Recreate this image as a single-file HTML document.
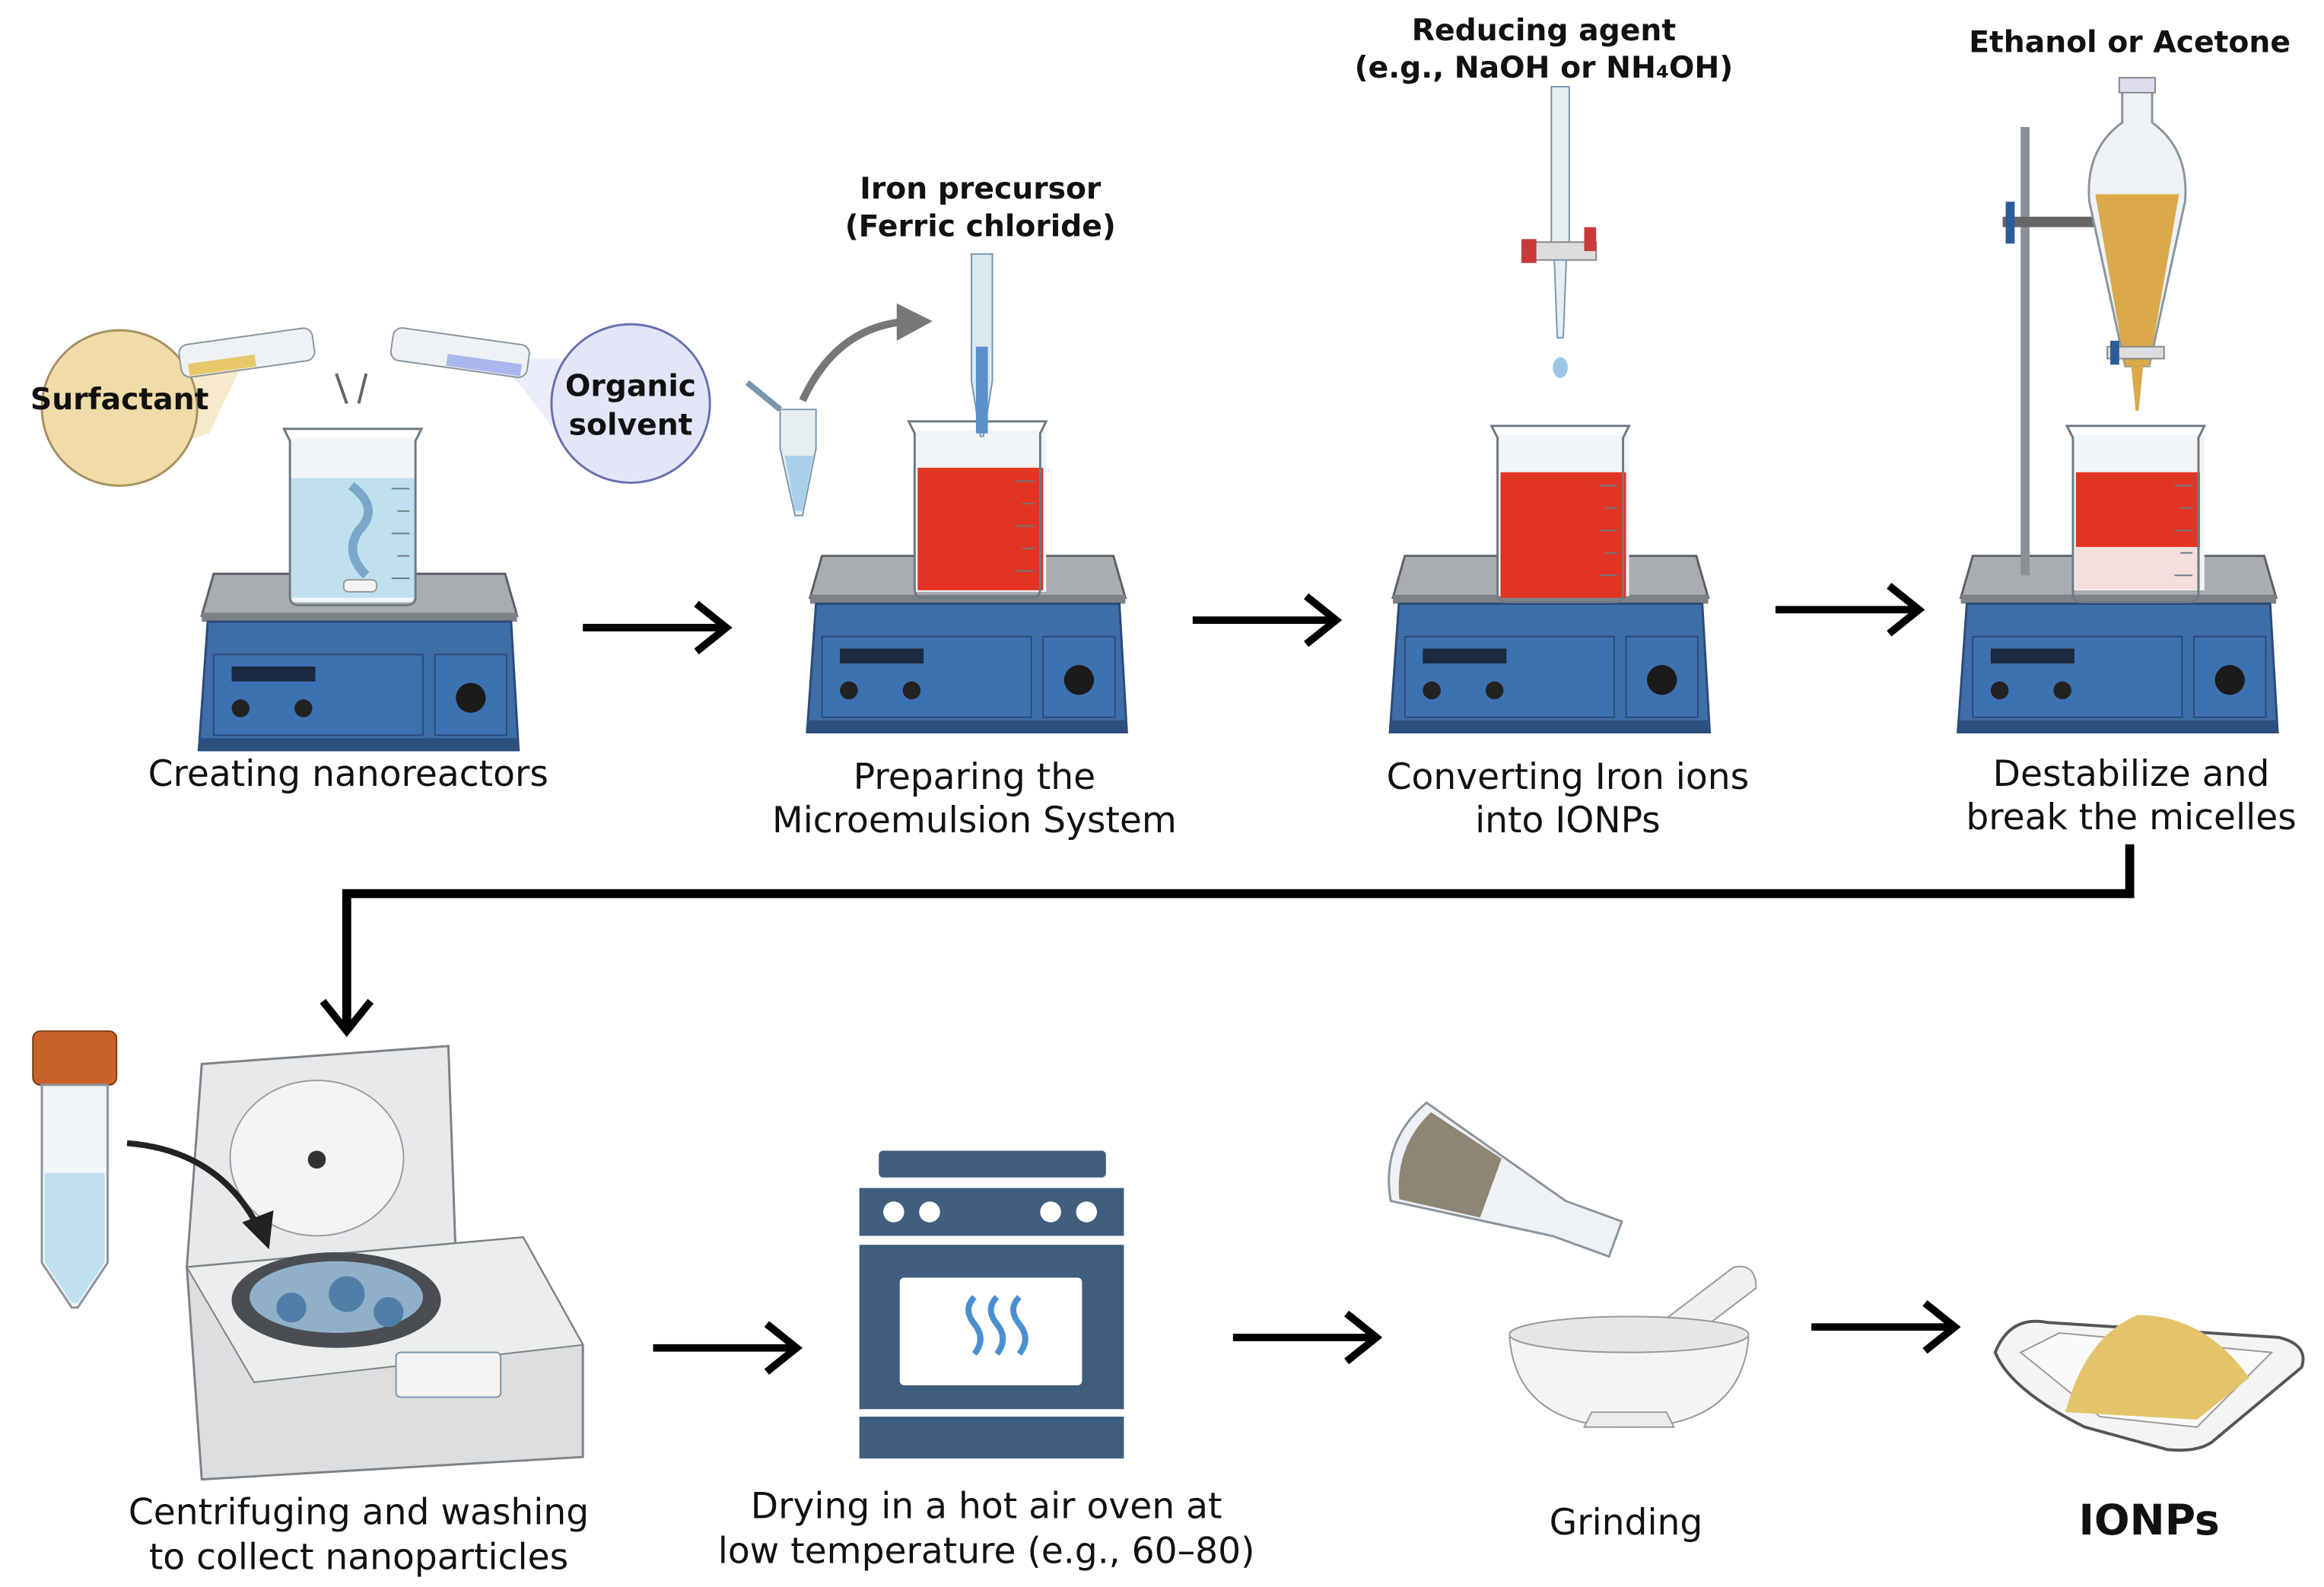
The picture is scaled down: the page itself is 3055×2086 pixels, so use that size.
<!DOCTYPE html>
<html><head><meta charset="utf-8"><style>
html,body{margin:0;padding:0;background:#fff;}
svg{display:block;}
text{font-family:"DejaVu Sans","Liberation Sans",sans-serif;fill:#111;}
.b{font-weight:bold;}
</style></head><body>
<svg width="3055" height="2086" viewBox="0 0 1555 1062" preserveAspectRatio="none" xmlns="http://www.w3.org/2000/svg">
<defs>
<g id="stir">
  <path d="M10,0 L205,0 L213,28 L2,28 Z" fill="#a9adb0" stroke="#5b6066" stroke-width="1.5"/>
  <rect x="2" y="26" width="211" height="6" fill="#7d8286"/>
  <path d="M6,32 L209,32 L214,118 L0,118 Z" fill="#3e6ea8" stroke="#2b4a78" stroke-width="1.5"/>
  <rect x="0" y="110" width="214" height="8" fill="#2d4f80"/>
  <rect x="10" y="54" width="140" height="54" fill="#3d72b2" stroke="#2b4a78"/>
  <rect x="158" y="54" width="48" height="54" fill="#3d72b2" stroke="#2b4a78"/>
  <rect x="22" y="62" width="56" height="10" fill="#1b2a40"/>
  <circle cx="28" cy="90" r="6" fill="#222"/>
  <circle cx="70" cy="90" r="6" fill="#222"/>
  <circle cx="182" cy="83" r="10" fill="#1b1b1b"/>
</g>
<g id="beaker">
  <path d="M0,0 L92,0 L88,8 L88,112 Q88,118 82,118 L10,118 Q4,118 4,112 L4,8 Z" fill="none" stroke="#6d7a83" stroke-width="1.5"/>
  <g stroke="#6d7a83" stroke-width="1"><line x1="72" y1="40" x2="84" y2="40"/><line x1="76" y1="55" x2="84" y2="55"/><line x1="72" y1="70" x2="84" y2="70"/><line x1="76" y1="85" x2="84" y2="85"/><line x1="72" y1="100" x2="84" y2="100"/></g>
</g>
<g id="arr"><line x1="0" y1="0" x2="94" y2="0" stroke="#000" stroke-width="5"/><path d="M76,-16 L96,0 L76,16" fill="none" stroke="#000" stroke-width="5"/></g>
</defs>

<use href="#stir" x="133" y="384"/>
<use href="#stir" x="540" y="372"/>
<use href="#stir" x="930" y="372"/>
<use href="#stir" x="1310" y="372"/>

<!-- Beaker 1 -->
<rect x="194" y="293" width="84" height="110" fill="#f1f5f7"/>
<path d="M194,320 L278,320 L278,400 L194,400 Z" fill="#bfe0ee"/>
<path d="M235,325 Q255,340 240,355 Q230,370 245,385" stroke="#7aa8c8" stroke-width="6" fill="none"/>
<rect x="230" y="388" width="22" height="8" rx="3" fill="#f4f4f4" stroke="#999"/>
<use href="#beaker" x="190" y="287"/>
<!-- Beaker 2 -->
<rect x="612" y="288" width="88" height="108" fill="#f1f5f7"/>
<rect x="614" y="313" width="84" height="82" fill="#e23422"/>
<use href="#beaker" x="608" y="282"/>
<!-- Beaker 3 -->
<rect x="1002" y="291" width="88" height="108" fill="#f1f5f7"/>
<rect x="1004" y="316" width="84" height="84" fill="#e23422"/>
<use href="#beaker" x="998" y="285"/>
<!-- Beaker 4 -->
<rect x="1387" y="291" width="88" height="104" fill="#f1f5f7"/>
<rect x="1389" y="316" width="83" height="78" fill="#e23422"/>
<rect x="1389" y="366" width="83" height="28" fill="#f4dede"/>
<use href="#beaker" x="1383" y="285"/>

<!-- Surfactant & solvent -->
<path d="M100,245 L160,248 L140,290 L110,300 Z" fill="#f0dca8" opacity="0.6"/>
<path d="M400,240 L330,240 L350,260 L380,300 Z" fill="#e2e6f8" opacity="0.7"/>
<circle cx="80" cy="273" r="52" fill="#f0dca8" stroke="#a89060" stroke-width="1.5"/>
<circle cx="422" cy="270" r="53" fill="#e2e6f8" stroke="#6870b0" stroke-width="1.5"/>
<g transform="rotate(-8 165 235)"><rect x="120" y="225" width="90" height="22" rx="6" fill="#eef2f4" stroke="#8a959c"/><rect x="125" y="238" width="45" height="8" fill="#e8c86a"/></g>
<g transform="rotate(8 308 235)"><rect x="262" y="225" width="92" height="22" rx="6" fill="#eef2f4" stroke="#8a959c"/><rect x="300" y="238" width="50" height="8" fill="#aab6ee"/></g>
<path d="M225,250 L232,270 M245,250 L240,270" stroke="#666" stroke-width="2"/>
<text x="80" y="274" font-size="20" class="b" text-anchor="middle">Surfactant</text>
<text x="422" y="265" font-size="20" class="b" text-anchor="middle">Organic</text>
<text x="422" y="291" font-size="20" class="b" text-anchor="middle">solvent</text>

<!-- pipette & eppendorf -->
<path d="M650,170 L664,170 L664,255 L658,292 L656,292 L650,255 Z" fill="#dbe9f1" stroke="#7a96ad"/>
<rect x="653" y="232" width="8" height="58" fill="#5a90c8"/>
<path d="M537,268 Q560,218 608,215" stroke="#777" stroke-width="5" fill="none"/>
<path d="M600,203 L624,215 L600,228 Z" fill="#777"/>
<path d="M522,274 L546,274 L546,300 L537,345 L532,345 L522,300 Z" fill="#e6eef2" stroke="#7a96ad"/>
<path d="M525,305 L544,305 L537,342 L532,342 Z" fill="#a9d0ea"/>
<path d="M522,274 L500,256" stroke="#7a96ad" stroke-width="4"/>
<text x="656" y="133" font-size="20" class="b" text-anchor="middle">Iron precursor</text>
<text x="656" y="158" font-size="20" class="b" text-anchor="middle">(Ferric chloride)</text>

<!-- burette -->
<rect x="1038" y="58" width="12" height="110" fill="#e6eef2" stroke="#7a96ad"/>
<rect x="1020" y="162" width="48" height="12" fill="#ddd" stroke="#888"/>
<rect x="1018" y="160" width="10" height="16" fill="#c83a3a"/>
<rect x="1060" y="152" width="8" height="16" fill="#c83a3a"/>
<path d="M1040,174 L1048,174 L1046,226 L1042,226 Z" fill="#e6eef2" stroke="#7a96ad"/>
<ellipse cx="1044" cy="246" rx="5" ry="7" fill="#9dc7e8"/>
<text x="1033" y="27" font-size="20" class="b" text-anchor="middle">Reducing agent</text>
<text x="1033" y="52" font-size="20" class="b" text-anchor="middle">(e.g., NaOH or NH₄OH)</text>

<!-- separatory funnel -->
<rect x="1352" y="85" width="6" height="300" fill="#8a9096"/>
<rect x="1340" y="145" width="75" height="7" fill="#666"/>
<rect x="1342" y="135" width="6" height="28" fill="#2b5c9a"/>
<path d="M1420,60 L1440,60 L1440,82 Q1465,100 1462,135 L1438,245 L1422,245 L1398,135 Q1395,100 1420,82 Z" fill="#eef2f4" stroke="#8a959c" stroke-width="1.5"/>
<path d="M1402,130 L1458,130 L1438,245 L1422,245 Z" fill="#d9a94a"/>
<rect x="1418" y="52" width="24" height="10" fill="#dde" stroke="#888"/>
<rect x="1410" y="232" width="38" height="8" fill="#ddd" stroke="#888"/>
<rect x="1412" y="228" width="6" height="16" fill="#2b5c9a"/>
<path d="M1426,245 L1434,245 L1431,275 L1429,275 Z" fill="#d9a94a"/>
<text x="1425" y="35" font-size="20" class="b" text-anchor="middle">Ethanol or Acetone</text>

<g font-size="24">
<text x="233" y="526" text-anchor="middle">Creating nanoreactors</text>
<text x="652" y="528" text-anchor="middle">Preparing the</text>
<text x="652" y="557" text-anchor="middle">Microemulsion System</text>
<text x="1049" y="528" text-anchor="middle">Converting Iron ions</text>
<text x="1049" y="557" text-anchor="middle">into IONPs</text>
<text x="1426" y="526" text-anchor="middle">Destabilize and</text>
<text x="1426" y="555" text-anchor="middle">break the micelles</text>
</g>

<use href="#arr" x="390" y="420"/>
<use href="#arr" x="798" y="415"/>
<use href="#arr" x="1188" y="408"/>
<use href="#arr" x="437" y="902"/>
<use href="#arr" x="825" y="895"/>
<use href="#arr" x="1212" y="888"/>
<path d="M1425,565 L1425,598 L232,598 L232,688" fill="none" stroke="#000" stroke-width="6"/>
<path d="M216,670 L232,690 L248,670" fill="none" stroke="#000" stroke-width="5"/>

<!-- tube -->
<rect x="22" y="690" width="56" height="36" rx="5" fill="#c8622a" stroke="#7a3a14"/>
<path d="M28,726 L72,726 L72,845 L52,875 L48,875 L28,845 Z" fill="#f2f6f8" stroke="#8a959c" stroke-width="1.5"/>
<path d="M30,785 L70,785 L70,845 L52,872 L48,872 L30,845 Z" fill="#bfe0ee"/>

<!-- centrifuge -->
<path d="M135,712 L300,700 L305,842 L125,848 Z" fill="#e8e9ea" stroke="#7d8286" stroke-width="1.5"/>
<ellipse cx="212" cy="775" rx="58" ry="52" fill="#f4f4f4" stroke="#9a9ea2"/>
<circle cx="212" cy="776" r="6" fill="#333"/>
<path d="M125,848 L350,828 L390,900 L390,975 L135,990 Z" fill="#dcdedf" stroke="#7d8286" stroke-width="1.5"/>
<path d="M125,848 L350,828 L390,900 L170,925 Z" fill="#eceded" stroke="#7d8286"/>
<ellipse cx="225" cy="870" rx="70" ry="32" fill="#4a4d52"/>
<ellipse cx="225" cy="868" rx="58" ry="24" fill="#8fb0c8"/>
<circle cx="232" cy="866" r="12" fill="#4f7fa8"/><circle cx="195" cy="875" r="10" fill="#4f7fa8"/><circle cx="260" cy="878" r="10" fill="#4f7fa8"/>
<rect x="265" y="905" width="70" height="30" rx="3" fill="#f4f4f4" stroke="#7a96ad"/>
<path d="M85,765 Q150,770 176,828" stroke="#222" stroke-width="4" fill="none"/>
<path d="M162,818 L180,836 L183,810 Z" fill="#222"/>
<text x="240" y="1020" font-size="24" text-anchor="middle">Centrifuging and washing</text>
<text x="240" y="1050" font-size="24" text-anchor="middle">to collect nanoparticles</text>

<!-- oven -->
<rect x="588" y="770" width="152" height="18" rx="3" fill="#3f5d7c"/>
<rect x="575" y="795" width="177" height="32" fill="#3f5d7c"/>
<circle cx="598" cy="811" r="7" fill="#fff"/><circle cx="622" cy="811" r="7" fill="#fff"/><circle cx="703" cy="811" r="7" fill="#fff"/><circle cx="727" cy="811" r="7" fill="#fff"/>
<rect x="575" y="833" width="177" height="110" fill="#3f5d7c"/>
<rect x="602" y="855" width="122" height="72" rx="3" fill="#fff"/>
<path d="M652,868 q-8,8 0,18 q8,10 0,20 M667,868 q-8,8 0,18 q8,10 0,20 M682,868 q-8,8 0,18 q8,10 0,20" stroke="#4a90d0" stroke-width="4" fill="none"/>
<rect x="575" y="948" width="177" height="28" fill="#3f5d7c"/>
<text x="660" y="1016" font-size="24" text-anchor="middle">Drying in a hot air oven at</text>
<text x="660" y="1046" font-size="24" text-anchor="middle">low temperature (e.g., 60–80)</text>

<!-- flask + mortar -->
<g transform="rotate(20 1010 790)">
<path d="M940,760 L1050,790 L1090,790 L1090,815 L1050,815 L940,830 Q920,795 940,760 Z" fill="#eef2f4" stroke="#8a959c" stroke-width="1.5"/>
<path d="M945,765 L1000,778 L1000,820 L945,827 Q930,795 945,765 Z" fill="#8f8574"/>
</g>
<path d="M1085,905 L1160,848 Q1175,845 1175,862 L1105,915 Z" fill="#f0f0f0" stroke="#999"/>
<path d="M1010,895 Q1015,955 1090,955 Q1165,955 1170,895 Z" fill="#f4f4f4" stroke="#999"/>
<ellipse cx="1090" cy="893" rx="80" ry="12" fill="#e6e6e6" stroke="#999"/>
<path d="M1060,955 L1120,955 L1115,945 L1065,945 Z" fill="#ececec" stroke="#999"/>
<text x="1088" y="1027" font-size="24" text-anchor="middle">Grinding</text>

<!-- dish -->
<path d="M1335,905 Q1345,880 1370,885 L1525,895 Q1545,900 1540,915 L1480,965 Q1470,972 1450,970 L1395,955 Q1345,930 1335,905 Z" fill="#f4f4f4" stroke="#555" stroke-width="2"/>
<path d="M1352,905 L1378,892 L1520,905 L1470,955 L1405,948 Z" fill="#fafafa" stroke="#999"/>
<path d="M1382,945 Q1395,895 1430,880 Q1475,880 1505,922 L1470,950 Z" fill="#e3c46a"/>
<text x="1438" y="1027" font-size="28" class="b" text-anchor="middle">IONPs</text>
</svg>
</body></html>
